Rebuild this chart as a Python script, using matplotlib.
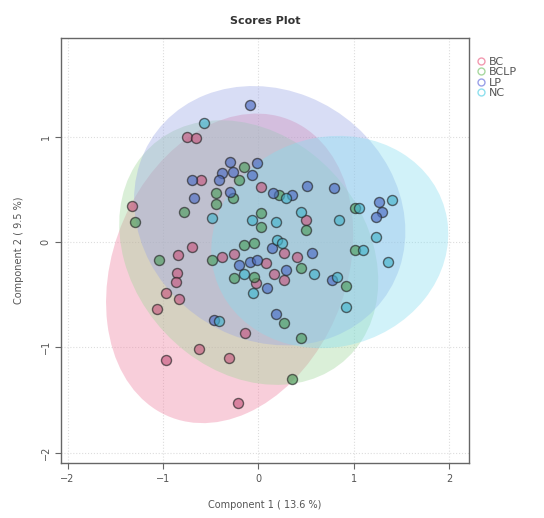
import matplotlib
matplotlib.use("Agg")
import matplotlib.pyplot as plt
from matplotlib.patches import Ellipse
from matplotlib.lines import Line2D

groups = ["BC", "BCLP", "LP", "NC"]

# scores
bc_x = [-0.75, -0.65, -0.60, 0.03, -1.32, -0.69, -0.84, -0.38, -0.25, -0.85, -0.86, -0.97, -0.83,
        -1.06, -0.14, -0.62, -0.31, -0.97, -0.21, 0.50, -0.02, 0.08, 0.17, 0.27, 0.27, 0.41]
bc_y = [1.00, 0.99, 0.59, 0.52, 0.34, -0.05, -0.12, -0.14, -0.11, -0.29, -0.38, -0.48, -0.54,
        -0.64, -0.86, -1.02, -1.10, -1.12, -1.53, 0.21, -0.39, -0.20, -0.30, -0.36, -0.10, -0.14]

bclp_x = [-0.15, -0.20, -0.44, -0.27, -0.44, -0.78, 0.03, 0.03, -1.29, -1.04, -0.48, -0.15, -0.04,
          -0.25, -0.04, 0.22, 0.50, 0.45, 0.92, 1.01, 0.27, 0.45, 0.35, 1.01]
bclp_y = [0.71, 0.59, 0.47, 0.42, 0.36, 0.29, 0.28, 0.14, 0.19, -0.17, -0.17, -0.03, -0.01,
          -0.34, -0.33, 0.45, 0.11, -0.25, -0.42, -0.08, -0.77, -0.91, -1.30, 0.32]

lp_x = [-0.09, -0.30, -0.01, -0.38, -0.27, -0.07, -0.69, -0.41, -0.30, -0.67, 0.15, 0.35, 0.51,
        0.79, 1.27, 1.30, 1.24, -0.20, -0.09, -0.01, 0.14, 0.56, 0.29, 0.77, 0.09, 0.19, -0.46]
lp_y = [1.30, 0.76, 0.75, 0.66, 0.67, 0.64, 0.59, 0.59, 0.48, 0.42, 0.47, 0.45, 0.53,
        0.51, 0.38, 0.29, 0.24, -0.22, -0.19, -0.17, -0.06, -0.10, -0.27, -0.36, -0.44, -0.68, -0.74]

nc_x = [-0.57, -0.49, -0.07, 0.19, 0.29, 0.45, 0.20, 0.25, 0.85, 1.06, 1.40, 1.23, 1.36, 1.10,
        0.59, 0.92, -0.15, -0.06, -0.41, 0.83]
nc_y = [1.13, 0.23, 0.21, 0.19, 0.42, 0.29, 0.02, -0.01, 0.21, 0.32, 0.40, 0.05, -0.19, -0.08,
        -0.30, -0.62, -0.30, -0.48, -0.75, -0.33]

# 95% regions: centre x, centre y, semi-axis a, semi-axis b, angle (deg)
ell_cx = [-0.30, -0.10, 0.12, 0.75]
ell_cy = [-0.25, -0.10, 0.25, 0.00]
ell_a = [1.55, 1.45, 1.45, 1.25]
ell_b = [1.20, 1.15, 1.20, 1.00]
ell_ang = [60, -35, -20, 10]

xs = [bc_x, bclp_x, lp_x, nc_x]
ys = [bc_y, bclp_y, lp_y, nc_y]

fill_cols = ["#ef7f9f", "#9fd69a", "#9aa6e6", "#86def0"]
pt_cols = ["#c85a80", "#4f9e5e", "#4d6cc4", "#45b4cc"]
leg_cols = ["#f29ab0", "#a8d8a0", "#9aa0e8", "#8fe0ee"]

fig = plt.figure(figsize=(5.44, 5.18), dpi=100)
ax = fig.add_axes([0.112, 0.106, 0.75, 0.821])

for i in range(4):
    e = Ellipse((ell_cx[i], ell_cy[i]), 2 * ell_a[i], 2 * ell_b[i], angle=ell_ang[i],
                facecolor=fill_cols[i], edgecolor="none", alpha=0.38, zorder=1)
    ax.add_patch(e)

for i in range(4):
    ax.scatter(xs[i], ys[i], s=52, facecolor=pt_cols[i], alpha=0.65,
               edgecolor="#222222", linewidth=1.0, zorder=3)

ax.set_xlim(-2.07, 2.21)
ax.set_ylim(-2.10, 1.94)
ax.set_xticks([-2, -1, 0, 1, 2])
ax.set_yticks([-2, -1, 0, 1])
ax.grid(True, color="#dddddd", linestyle=":", linewidth=0.8, zorder=0)
ax.set_axisbelow(True)
for sp in ax.spines.values():
    sp.set_color("#666666")
    sp.set_linewidth(1.0)
ax.tick_params(direction="out", length=4, colors="#666666", labelsize=7, labelcolor="#555555")
for lab in ax.get_yticklabels():
    lab.set_rotation(90)
    lab.set_va("center")

ax.set_xlabel("Component 1 ( 13.6 %)", fontsize=7, color="#555555", labelpad=12)
ax.set_ylabel("Component 2 ( 9.5 %)", fontsize=7, color="#555555", labelpad=12)
ax.set_title("Scores Plot", fontsize=8, fontweight="bold", color="#333333", pad=10)

handles = [Line2D([0], [0], marker="o", linestyle="none", markerfacecolor="none",
                  markeredgecolor=leg_cols[i], markersize=5, markeredgewidth=1.0)
           for i in range(4)]
fig.legend(handles, groups, loc="upper left", bbox_to_anchor=(0.855, 0.91), frameon=False,
           fontsize=8, handletextpad=0.2, labelspacing=0.05, handlelength=1.0,
           labelcolor="#555555")

fig.savefig("out.png", dpi=100)
